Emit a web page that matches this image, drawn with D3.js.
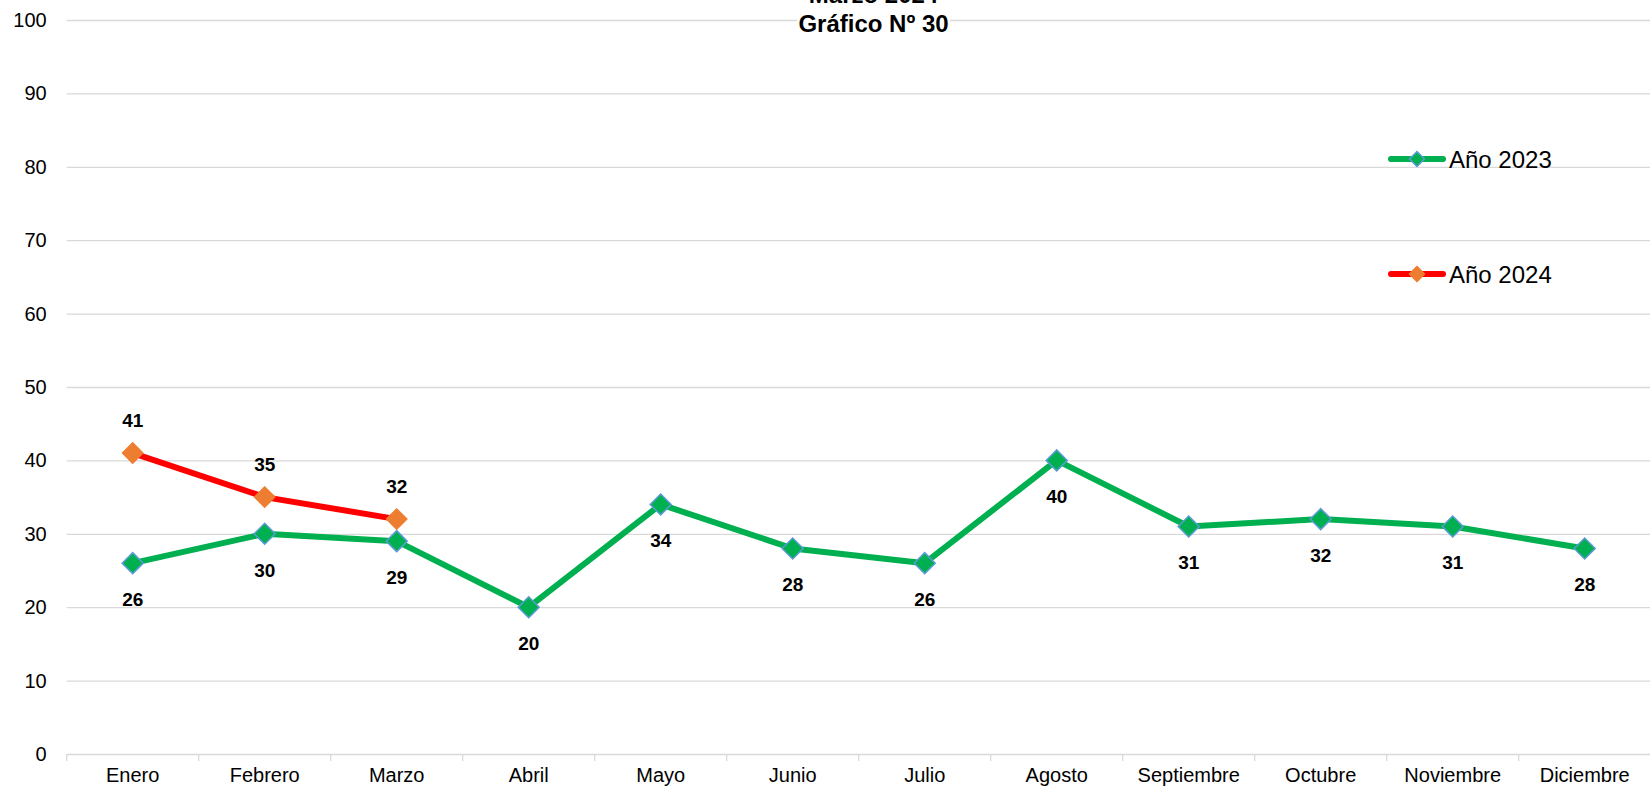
<!DOCTYPE html>
<html>
<head>
<meta charset="utf-8">
<script src="https://cdn.jsdelivr.net/npm/d3@7"></script>
<style>
  body { margin: 0; background: #fff; }
  text { font-family: "Liberation Sans", Arial, sans-serif; }
</style>
</head>
<body>
<script>
  var months = ["Enero", "Febrero", "Marzo", "Abril", "Mayo", "Junio", "Julio", "Agosto", "Septiembre", "Octubre", "Noviembre", "Diciembre"];
  var values2023 = [26, 30, 29, 20, 34, 28, 26, 40, 31, 32, 31, 28];
  var values2024 = [41, 35, 32];
  var yTicks = [0, 10, 20, 30, 40, 50, 60, 70, 80, 90, 100];
  var seriesNames = ["Año 2023", "Año 2024"];

  var width = 1650, height = 791;

  var svg = d3.select("body").append("svg")
    .attr("width", width)
    .attr("height", height);

  var x = d3.scaleBand().domain(months).range([66.7, 1650.7]).padding(0);
  var y = d3.scaleLinear().domain([0, 100]).range([754, 20]);
  var cx = function(i) { return x(months[i]) + x.bandwidth() / 2; };

  // gridlines
  svg.append("g").selectAll("line").data(yTicks).enter().append("line")
    .attr("x1", 66.7).attr("x2", 1650)
    .attr("y1", function(d) { return y(d) + 0.5; })
    .attr("y2", function(d) { return y(d) + 0.5; })
    .attr("stroke", "#d9d9d9").attr("stroke-width", 1.3);

  // y labels
  var yAxis = svg.append("g")
    .attr("transform", "translate(66.7,0)")
    .call(d3.axisLeft(y).tickValues(yTicks).tickSize(0).tickPadding(20));
  yAxis.select(".domain").remove();
  yAxis.selectAll("text").attr("font-size", 20).attr("fill", "#000")
    .attr("font-family", "Liberation Sans, Arial, sans-serif");

  // x axis
  var xAxis = svg.append("g")
    .attr("transform", "translate(0,754)")
    .call(d3.axisBottom(x).tickSize(0).tickPadding(14));
  xAxis.select(".domain").remove();
  xAxis.selectAll("text").attr("font-size", 20).attr("fill", "#000")
    .attr("font-family", "Liberation Sans, Arial, sans-serif");

  // boundary tick marks
  var bounds = months.map(function(m) { return x(m); });
  svg.append("g").selectAll("line").data(bounds).enter().append("line")
    .attr("x1", function(d) { return d; }).attr("x2", function(d) { return d; })
    .attr("y1", 754).attr("y2", 761)
    .attr("stroke", "#d9d9d9").attr("stroke-width", 1.3);

  // title
  svg.append("rect").attr("x", 797).attr("y", 0).attr("width", 153).attr("height", 36).attr("fill", "#fff");
  svg.append("text").attr("x", 873.5).attr("y", 3)
    .attr("text-anchor", "middle").attr("font-size", 24).attr("font-weight", "bold")
    .text("Marzo 2024");
  svg.append("text").attr("x", 873.5).attr("y", 31.5)
    .attr("text-anchor", "middle").attr("font-size", 24).attr("font-weight", "bold")
    .text("Gráfico Nº 30");

  var line = d3.line()
    .x(function(d, i) { return cx(i); })
    .y(function(d) { return y(d); });

  var diamond = d3.symbol().type(d3.symbolSquare).size(220);
  var diamondSmall = d3.symbol().type(d3.symbolSquare).size(112);

  // 2023
  svg.append("path").datum(values2023)
    .attr("d", line).attr("fill", "none")
    .attr("stroke", "#00b050").attr("stroke-width", 6).attr("stroke-linejoin", "round");
  svg.append("g").selectAll("path").data(values2023).enter().append("path")
    .attr("d", diamond)
    .attr("transform", function(d, i) { return "translate(" + cx(i) + "," + y(d) + ") rotate(45)"; })
    .attr("fill", "#00b050").attr("stroke", "#5b9bd5").attr("stroke-width", 1.5);
  svg.append("g").selectAll("text").data(values2023).enter().append("text")
    .attr("x", function(d, i) { return cx(i); })
    .attr("y", function(d) { return y(d) + 43; })
    .attr("text-anchor", "middle").attr("font-size", 19).attr("font-weight", "bold")
    .text(function(d) { return d; });

  // 2024
  svg.append("path").datum(values2024)
    .attr("d", line).attr("fill", "none")
    .attr("stroke", "#ff0000").attr("stroke-width", 6).attr("stroke-linejoin", "round");
  svg.append("g").selectAll("path").data(values2024).enter().append("path")
    .attr("d", diamond)
    .attr("transform", function(d, i) { return "translate(" + cx(i) + "," + y(d) + ") rotate(45)"; })
    .attr("fill", "#ed7d31").attr("stroke", "#ed7d31").attr("stroke-width", 1);
  svg.append("g").selectAll("text").data(values2024).enter().append("text")
    .attr("x", function(d, i) { return cx(i); })
    .attr("y", function(d) { return y(d) - 26; })
    .attr("text-anchor", "middle").attr("font-size", 19).attr("font-weight", "bold")
    .text(function(d) { return d; });

  // legend
  var legend = [
    { name: seriesNames[0], line: "#00b050", fill: "#00b050", stroke: "#5b9bd5", y: 159 },
    { name: seriesNames[1], line: "#ff0000", fill: "#ed7d31", stroke: "#ed7d31", y: 274 }
  ];
  var lg = svg.append("g").selectAll("g").data(legend).enter().append("g");
  lg.append("line")
    .attr("x1", 1391).attr("x2", 1443)
    .attr("y1", function(d) { return d.y; }).attr("y2", function(d) { return d.y; })
    .attr("stroke", function(d) { return d.line; }).attr("stroke-width", 6).attr("stroke-linecap", "round");
  lg.append("path")
    .attr("d", diamondSmall)
    .attr("transform", function(d) { return "translate(1417," + d.y + ") rotate(45)"; })
    .attr("fill", function(d) { return d.fill; }).attr("stroke", function(d) { return d.stroke; }).attr("stroke-width", 1.5);
  lg.append("text")
    .attr("x", 1449).attr("y", function(d) { return d.y + 8.5; })
    .attr("font-size", 24)
    .text(function(d) { return d.name; });
</script>
</body>
</html>
